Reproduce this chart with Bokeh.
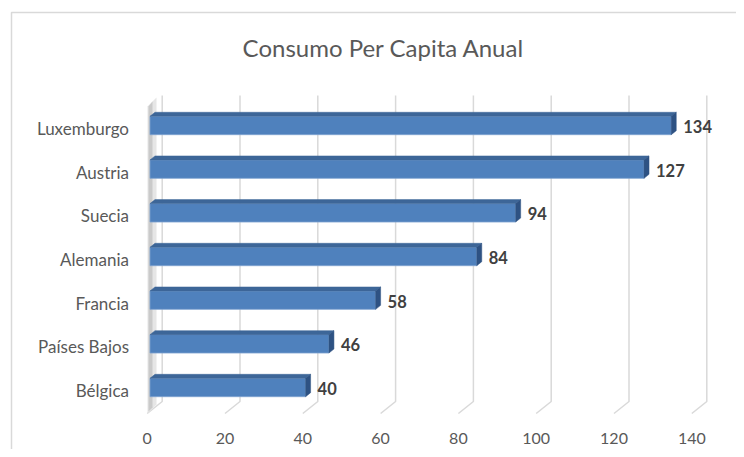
from bokeh.plotting import figure
from bokeh.models import Range1d, ColumnDataSource
from bokeh.core.properties import value
from bokeh.embed import file_html
from bokeh.resources import INLINE

# ---- data ----
categories = ["Bélgica", "Países Bajos", "Francia", "Alemania", "Suecia", "Austria", "Luxemburgo"]
consumo = [40, 46, 58, 84, 94, 127, 134]
x_ticks = [0, 20, 40, 60, 80, 100, 120, 140]
tick_labels = ["0", "20", "40", "60", "80", "100", "120", "140"]
title_text = "Consumo Per Capita Anual"

# ---- layout constants (picture pixels) ----
W, H = 736, 449
X0_PX = 149.5      # x of value 0
PX_PER_UNIT = 3.89
Y0_PX = 387.0      # y of first category centre
ROW_PX = 43.67

def fx(px):
    return (px - X0_PX) / PX_PER_UNIT

def fy(py):
    return (Y0_PX - py) / ROW_PX

def dxu(px):
    return px / PX_PER_UNIT

def dyu(px):
    return px / ROW_PX

p = figure(width=W, height=H, output_backend="svg", toolbar_location=None,
           x_axis_location=None, y_axis_location=None, min_border=0,
           x_range=Range1d(fx(0), fx(W)), y_range=Range1d(fy(H), fy(0)))
p.xgrid.visible = False
p.ygrid.visible = False
p.outline_line_color = None
p.background_fill_color = "white"
p.border_fill_color = "white"

FONT = value("Lato")
GREY = "#595959"
GRID = "#d9d9d9"

# chart border (left and top edges visible)
p.line([fx(11), fx(11), fx(760)], [fy(470), fy(12), fy(12)], line_color=GRID, line_width=1.5)

# title
p.text(x=[fx(383)], y=[fy(47)], text=[title_text], text_font=FONT,
       text_font_size=value("24px"), text_color=GREY, text_align="center",
       text_baseline="middle")

# back wall gridlines and floor diagonals
back_dx = dxu(12.2)
front_dx = -dxu(2.8)
y_back_bottom = fy(401)
y_back_top = fy(95)
y_front = fy(413)
xs_grid = [[t + back_dx, t + back_dx, t + front_dx] for t in x_ticks]
ys_grid = [[y_back_top, y_back_bottom, y_front] for t in x_ticks]
p.multi_line(xs=xs_grid, ys=ys_grid, line_color=GRID, line_width=1.5)

# left wall shading
p.patch([fx(147), fx(147), fx(156), fx(156)], [fy(413), fy(106), fy(97), fy(404)],
        fill_color="#e6e6e6", line_color=None)
p.patch([fx(148), fx(148), fx(152), fx(152)], [fy(411), fy(106), fy(101), fy(407)],
        fill_color="#bdbdbd", fill_alpha=0.7, line_color=None)

# bars (3D look)
half = dyu(9.2)
ddx = dxu(5)
ddy = dyu(4)
rows = list(range(len(categories)))
src = ColumnDataSource(dict(y=rows, right=consumo))
p.hbar(y="y", left=0, right="right", height=2 * half, source=src,
       fill_color="#4f81bd", line_color="#7fa3d1", line_width=0.8)
top_xs, top_ys, side_xs, side_ys = [], [], [], []
for i, v in zip(rows, consumo):
    t, b = i + half, i - half
    top_xs.append([0, v, v + ddx, ddx])
    top_ys.append([t, t, t + ddy, t + ddy])
    side_xs.append([v, v, v + ddx, v + ddx])
    side_ys.append([b, t, t + ddy, b + ddy])
p.patches(top_xs, top_ys, fill_color="#3d6698", line_color="#3d6698", line_width=0.5)
p.patches(side_xs, side_ys, fill_color="#2e5283", line_color="#2e5283", line_width=0.5)

# value labels
p.text(x=[v + dxu(12) for v in consumo], y=[i - dyu(1) for i in rows],
       text=[str(v) for v in consumo], text_font=FONT, text_font_style="bold",
       text_font_size=value("16.5px"), text_color="#404040",
       text_align="left", text_baseline="middle")

# category labels
p.text(x=[fx(128.5)] * len(categories), y=[i - dyu(3) for i in rows], text=categories,
       text_font=FONT, text_font_size=value("17px"), text_color=GREY,
       text_align="right", text_baseline="middle")

# tick labels
p.text(x=[t + front_dx for t in x_ticks], y=[fy(438)] * len(x_ticks), text=tick_labels,
       text_font=FONT, text_font_size=value("16px"), text_color=GREY,
       text_align="center", text_baseline="middle")

open("out.html", "w").write(file_html(p, INLINE))
